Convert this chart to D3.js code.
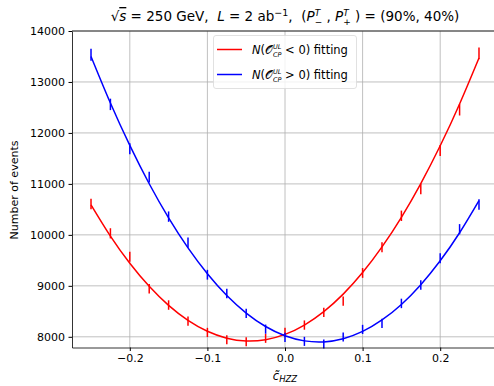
<!DOCTYPE html>
<html>
<head>
<meta charset="utf-8">
<script src="https://cdn.jsdelivr.net/npm/d3@7"></script>
<style>
  body { margin: 0; background: #fff; }
  svg { display: block; font-family: "DejaVu Sans", sans-serif; }
  text { white-space: pre; }
</style>
</head>
<body>
<svg id="chart" width="494" height="386"></svg>
<script>
// coupling values (x axis)
const cValues = [-0.25,-0.225,-0.2,-0.175,-0.15,-0.125,-0.1,-0.075,-0.05,-0.025,0,
                 0.025,0.05,0.075,0.1,0.125,0.15,0.175,0.2,0.225,0.25];
// N(O < 0) points and fit
const redPts = [10607,10030,9572,8943,8623,8308,8086,7941,7902,7970,8086,
                8230,8479,8700,9253,9758,10374,10900,11654,12454,13560];
const redErr = [103,100,98,95,93,91,90,89,89,89,90,91,92,93,96,99,102,104,108,112,116];
const redFit = [10590,9977,9444,8991,8617,8323,8108,7973,7918,7943,8047,
                8231,8494,8837,9260,9763,10345,11007,11748,12569,13470];
// N(O > 0) points and fit
const bluePts = [13534,12560,11688,11132,10358,9847,9218,8850,8460,8150,7988,
                 7910,7857,7995,8145,8262,8655,9016,9541,10111,10594];
const blueErr = [116,112,108,105,102,99,96,94,92,90,89,89,89,89,90,91,93,95,98,100,103];
const blueFit = [13501,12587,11755,11003,10333,9744,9237,8810,8466,8202,8020,
                 7920,7900,7962,8105,8330,8635,9023,9491,10041,10672];
const xTicks = [-0.2,-0.1,0.0,0.1,0.2];
const yTicks = [8000,9000,10000,11000,12000,13000,14000];

const W = 494, H = 386;
const Margin = [31, 38.5, -4, 72]; // top bottom right left
const SVG = d3.select("#chart");

const X = d3.scaleLinear().domain([-0.2745, 0.2745]).range([Margin[3], W - Margin[2]]);
const Y = d3.scaleLinear().domain([7790, 14000]).range([H - Margin[1], Margin[0]]);

// grid
const grid = SVG.append("g").attr("stroke", "#b0b0b0").attr("stroke-width", 0.8);
grid.selectAll(".gx").data(xTicks).join("line")
  .attr("x1", d => X(d)).attr("x2", d => X(d))
  .attr("y1", Y.range()[0]).attr("y2", Y.range()[1]);
grid.selectAll(".gy").data(yTicks).join("line")
  .attr("x1", X.range()[0]).attr("x2", X.range()[1])
  .attr("y1", d => Y(d)).attr("y2", d => Y(d));

// series
const series = [
  {pts: redPts, err: redErr, fit: redFit, color: "#ff0000"},
  {pts: bluePts, err: blueErr, fit: blueFit, color: "#0000ff"}
];
const line = d3.line().x((d, i) => X(cValues[i])).y(d => Y(d)).curve(d3.curveNatural);
series.forEach(s => {
  SVG.append("path").attr("d", line(s.fit))
    .attr("fill", "none").attr("stroke", s.color).attr("stroke-width", 1.5);
  SVG.append("g").selectAll("line").data(s.pts).join("line")
    .attr("x1", (d, i) => X(cValues[i])).attr("x2", (d, i) => X(cValues[i]))
    .attr("y1", (d, i) => Y(d - s.err[i])).attr("y2", (d, i) => Y(d + s.err[i]))
    .attr("stroke", s.color).attr("stroke-width", 1.5);
});

// axes
const Xgroup = g => g
  .attr("transform", `translate(0,${Y.range()[0]})`)
  .call(d3.axisBottom(X).tickValues(xTicks).tickSizeInner(3.5).tickSizeOuter(0).tickPadding(3.5)
    .tickFormat(d => d3.format(".1f")(d).replace("-", "\u2212")))
  .call(g => g.selectAll("text").attr("font-size", 11).attr("fill", "#000").attr("font-family", "DejaVu Sans"))
  .call(g => g.select(".domain").attr("stroke-width", 0.8));
const Ygroup = g => g
  .attr("transform", `translate(${X.range()[0]},0)`)
  .call(d3.axisLeft(Y).tickValues(yTicks).tickSizeInner(3.5).tickSizeOuter(0).tickPadding(3.5).tickFormat(d3.format("d")))
  .call(g => g.selectAll("text").attr("font-size", 11).attr("fill", "#000").attr("font-family", "DejaVu Sans"))
  .call(g => g.select(".domain").attr("stroke-width", 0.8));
SVG.append("g").call(Xgroup);
SVG.append("g").call(Ygroup);
// top spine
SVG.append("line").attr("x1", X.range()[0]).attr("x2", X.range()[1])
  .attr("y1", Y.range()[1]).attr("y2", Y.range()[1]).attr("stroke", "#000").attr("stroke-width", 0.8);

// labels
SVG.append("text").attr("transform", "translate(18,190) rotate(-90)")
  .attr("text-anchor", "middle").attr("font-size", 11).text("Number of events");

const xl = SVG.append("text").attr("x", 285).attr("y", 380).attr("text-anchor", "middle").attr("font-size", 11.5);
xl.append("tspan").attr("font-style", "italic").text("c\u0303");
xl.append("tspan").attr("font-style", "italic").attr("font-size", 8.5).attr("dy", 2).text("HZZ");

// title
const t = SVG.append("text").attr("x", 285).attr("y", 21).attr("text-anchor", "middle").attr("font-size", 13.5);
t.append("tspan").text("\u221A");
t.append("tspan").attr("font-style", "italic").attr("text-decoration", "overline").text("s");
t.append("tspan").text(" = 250 GeV,  ");
t.append("tspan").attr("font-style", "italic").text("L");
t.append("tspan").text(" = 2 ab");
t.append("tspan").attr("font-size", 9.5).attr("dy", -5).text("\u22121");
t.append("tspan").attr("dy", 5).text(",  (");
t.append("tspan").attr("font-style", "italic").text("P");
t.append("tspan").attr("font-size", 9).attr("font-style", "italic").attr("dy", -5).text("T");
t.append("tspan").attr("font-size", 9).attr("dx", -5.5).attr("dy", 9).text("\u2212");
t.append("tspan").attr("dy", -4).text(" , ");
t.append("tspan").attr("font-style", "italic").text("P");
t.append("tspan").attr("font-size", 9).attr("font-style", "italic").attr("dy", -5).text("T");
t.append("tspan").attr("font-size", 9).attr("dx", -5.5).attr("dy", 9).text("+");
t.append("tspan").attr("dy", -4).text(" ) = (90%, 40%)");

// legend
const leg = SVG.append("g");
leg.append("rect").attr("x", 213.5).attr("y", 35.5).attr("width", 143).attr("height", 53).attr("rx", 2.5)
  .attr("fill", "#fff").attr("fill-opacity", 0.8).attr("stroke", "#d9d9d9").attr("stroke-width", 0.8);
const legItems = [{color: "#ff0000", op: " < 0) fitting"}, {color: "#0000ff", op: " > 0) fitting"}];
legItems.forEach((d, i) => {
  const yy = 49.5 + i * 25;
  leg.append("line").attr("x1", 217).attr("x2", 242).attr("y1", yy).attr("y2", yy)
    .attr("stroke", d.color).attr("stroke-width", 1.5);
  const tx = leg.append("text").attr("x", 252).attr("y", yy + 4).attr("font-size", 11.5);
  tx.append("tspan").attr("font-style", "italic").text("N");
  tx.append("tspan").text("(\uD835\uDCAA");
  tx.append("tspan").attr("font-size", 6.5).attr("font-style", "italic").attr("dy", -5).text("UL");
  tx.append("tspan").attr("font-size", 6.5).attr("font-style", "italic").attr("dx", -8.5).attr("dy", 8).text("CP");
  tx.append("tspan").attr("dy", -3).text(d.op);
});
</script>
</body>
</html>
